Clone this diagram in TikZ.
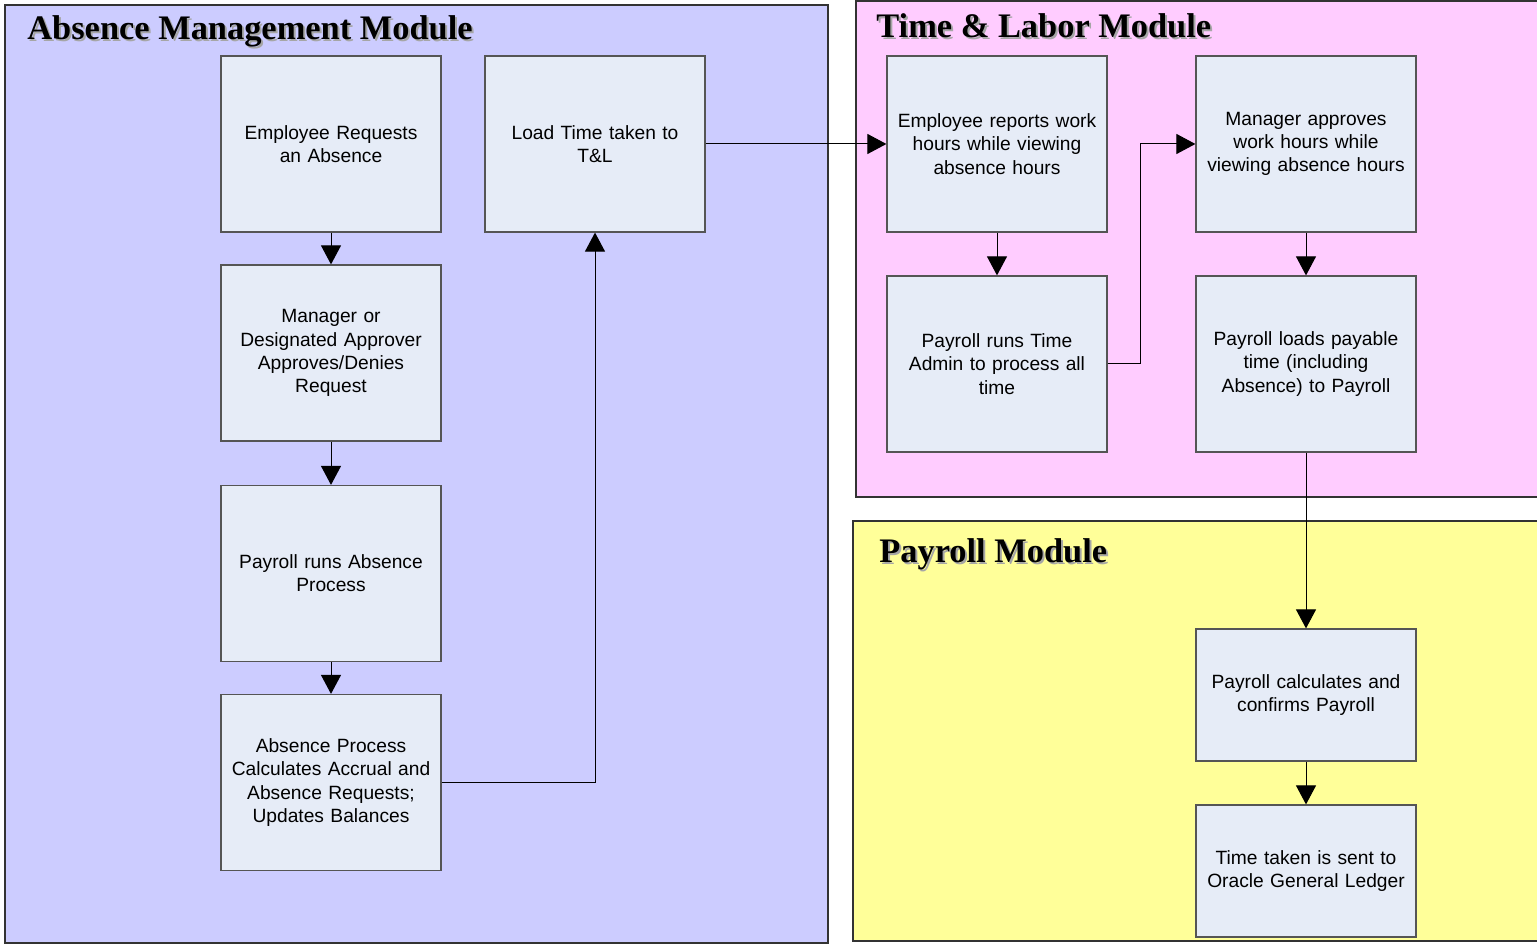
\documentclass[tikz,border=0pt]{standalone}
\usepackage{fontspec}
\setmainfont{Liberation Serif}
\newfontfamily\arialfont{Liberation Sans}
\usetikzlibrary{arrows.meta}
\definecolor{absbg}{HTML}{CCCCFF}
\definecolor{tlbg}{HTML}{FFCCFF}
\definecolor{paybg}{HTML}{FFFF99}
\definecolor{boxbg}{HTML}{E6ECF7}
\definecolor{boxline}{HTML}{555555}
\definecolor{panelline}{HTML}{333333}
\begin{document}
\begin{tikzpicture}[x=0.5pt,y=-0.5pt,
  panel/.style={draw=panelline,line width=1pt},
  procbox/.style={draw=boxline,fill=boxbg,line width=0.6pt,minimum width=110pt,minimum height=88pt,
    inner sep=0pt,align=center,text width=106pt,font=\arialfont\fontsize{9.6}{11.6}\selectfont},
  shortbox/.style={procbox,minimum height=66pt},
  title/.style={anchor=base west,inner sep=0pt,font=\bfseries\fontsize{17.2}{20}\selectfont},
  titleshadow/.style={title,text=black!35},
  flow/.style={line width=0.5pt,-{Triangle[length=9.5pt,width=10pt]}}
]
\useasboundingbox (0,0) rectangle (1537,945);
% panels
\draw[panel,fill=absbg] (5,5) rectangle (828,943);
\draw[panel,fill=tlbg] (856,1) rectangle (1538,497);
\draw[panel,fill=paybg] (853,521) rectangle (1538,941);
% titles
\node[titleshadow] (abst2) at (29,42) {Absence Management Module};
\node[title] (abst) at (27,40) {Absence Management Module};
\node[titleshadow] (tlt2) at (878,40) {Time \& Labor Module};
\node[title] (tlt) at (876,38) {Time \& Labor Module};
\node[titleshadow] (payt2) at (881,565) {Payroll Module};
\node[title] (payt) at (879,563) {Payroll Module};
% boxes
\node[procbox] (e1) at (331,144) {Employee Requests\\an Absence};
\node[procbox] (e2) at (331,353) {Manager or\\Designated Approver\\Approves/Denies\\Request};
\node[procbox] (e3) at (331,573.5) {Payroll runs Absence\\Process};
\node[procbox] (e4) at (331,782.5) {Absence Process\\Calculates Accrual and\\Absence Requests;\\Updates Balances};
\node[procbox] (ld) at (595,144) {Load Time taken to\\T\&L};
\node[procbox] (t1) at (997,144) {Employee reports work\\hours while viewing\\absence hours};
\node[procbox] (t2) at (997,364) {Payroll runs Time\\Admin to process all\\time};
\node[procbox] (t3) at (1306,144) {Manager approves\\work hours while\\viewing absence hours};
\node[procbox] (t4) at (1306,364) {Payroll loads payable\\time (including\\Absence) to Payroll};
\node[shortbox] (p1) at (1306,695) {Payroll calculates and\\confirms Payroll};
\node[shortbox] (p2) at (1306,871) {Time taken is sent to\\Oracle General Ledger};
% connectors
\draw[flow] (e1) -- (e2);
\draw[flow] (e2) -- (e3);
\draw[flow] (e3) -- (e4);
\draw[flow] (e4.east) -| (ld.south);
\draw[flow] (ld.east) -- (t1.west);
\draw[flow] (t1) -- (t2);
\draw[flow] (t2.east) -- ++(33,0) |- (t3.west);
\draw[flow] (t3) -- (t4);
\draw[flow] (t4) -- (p1);
\draw[flow] (p1) -- (p2);
\end{tikzpicture}
\end{document}
